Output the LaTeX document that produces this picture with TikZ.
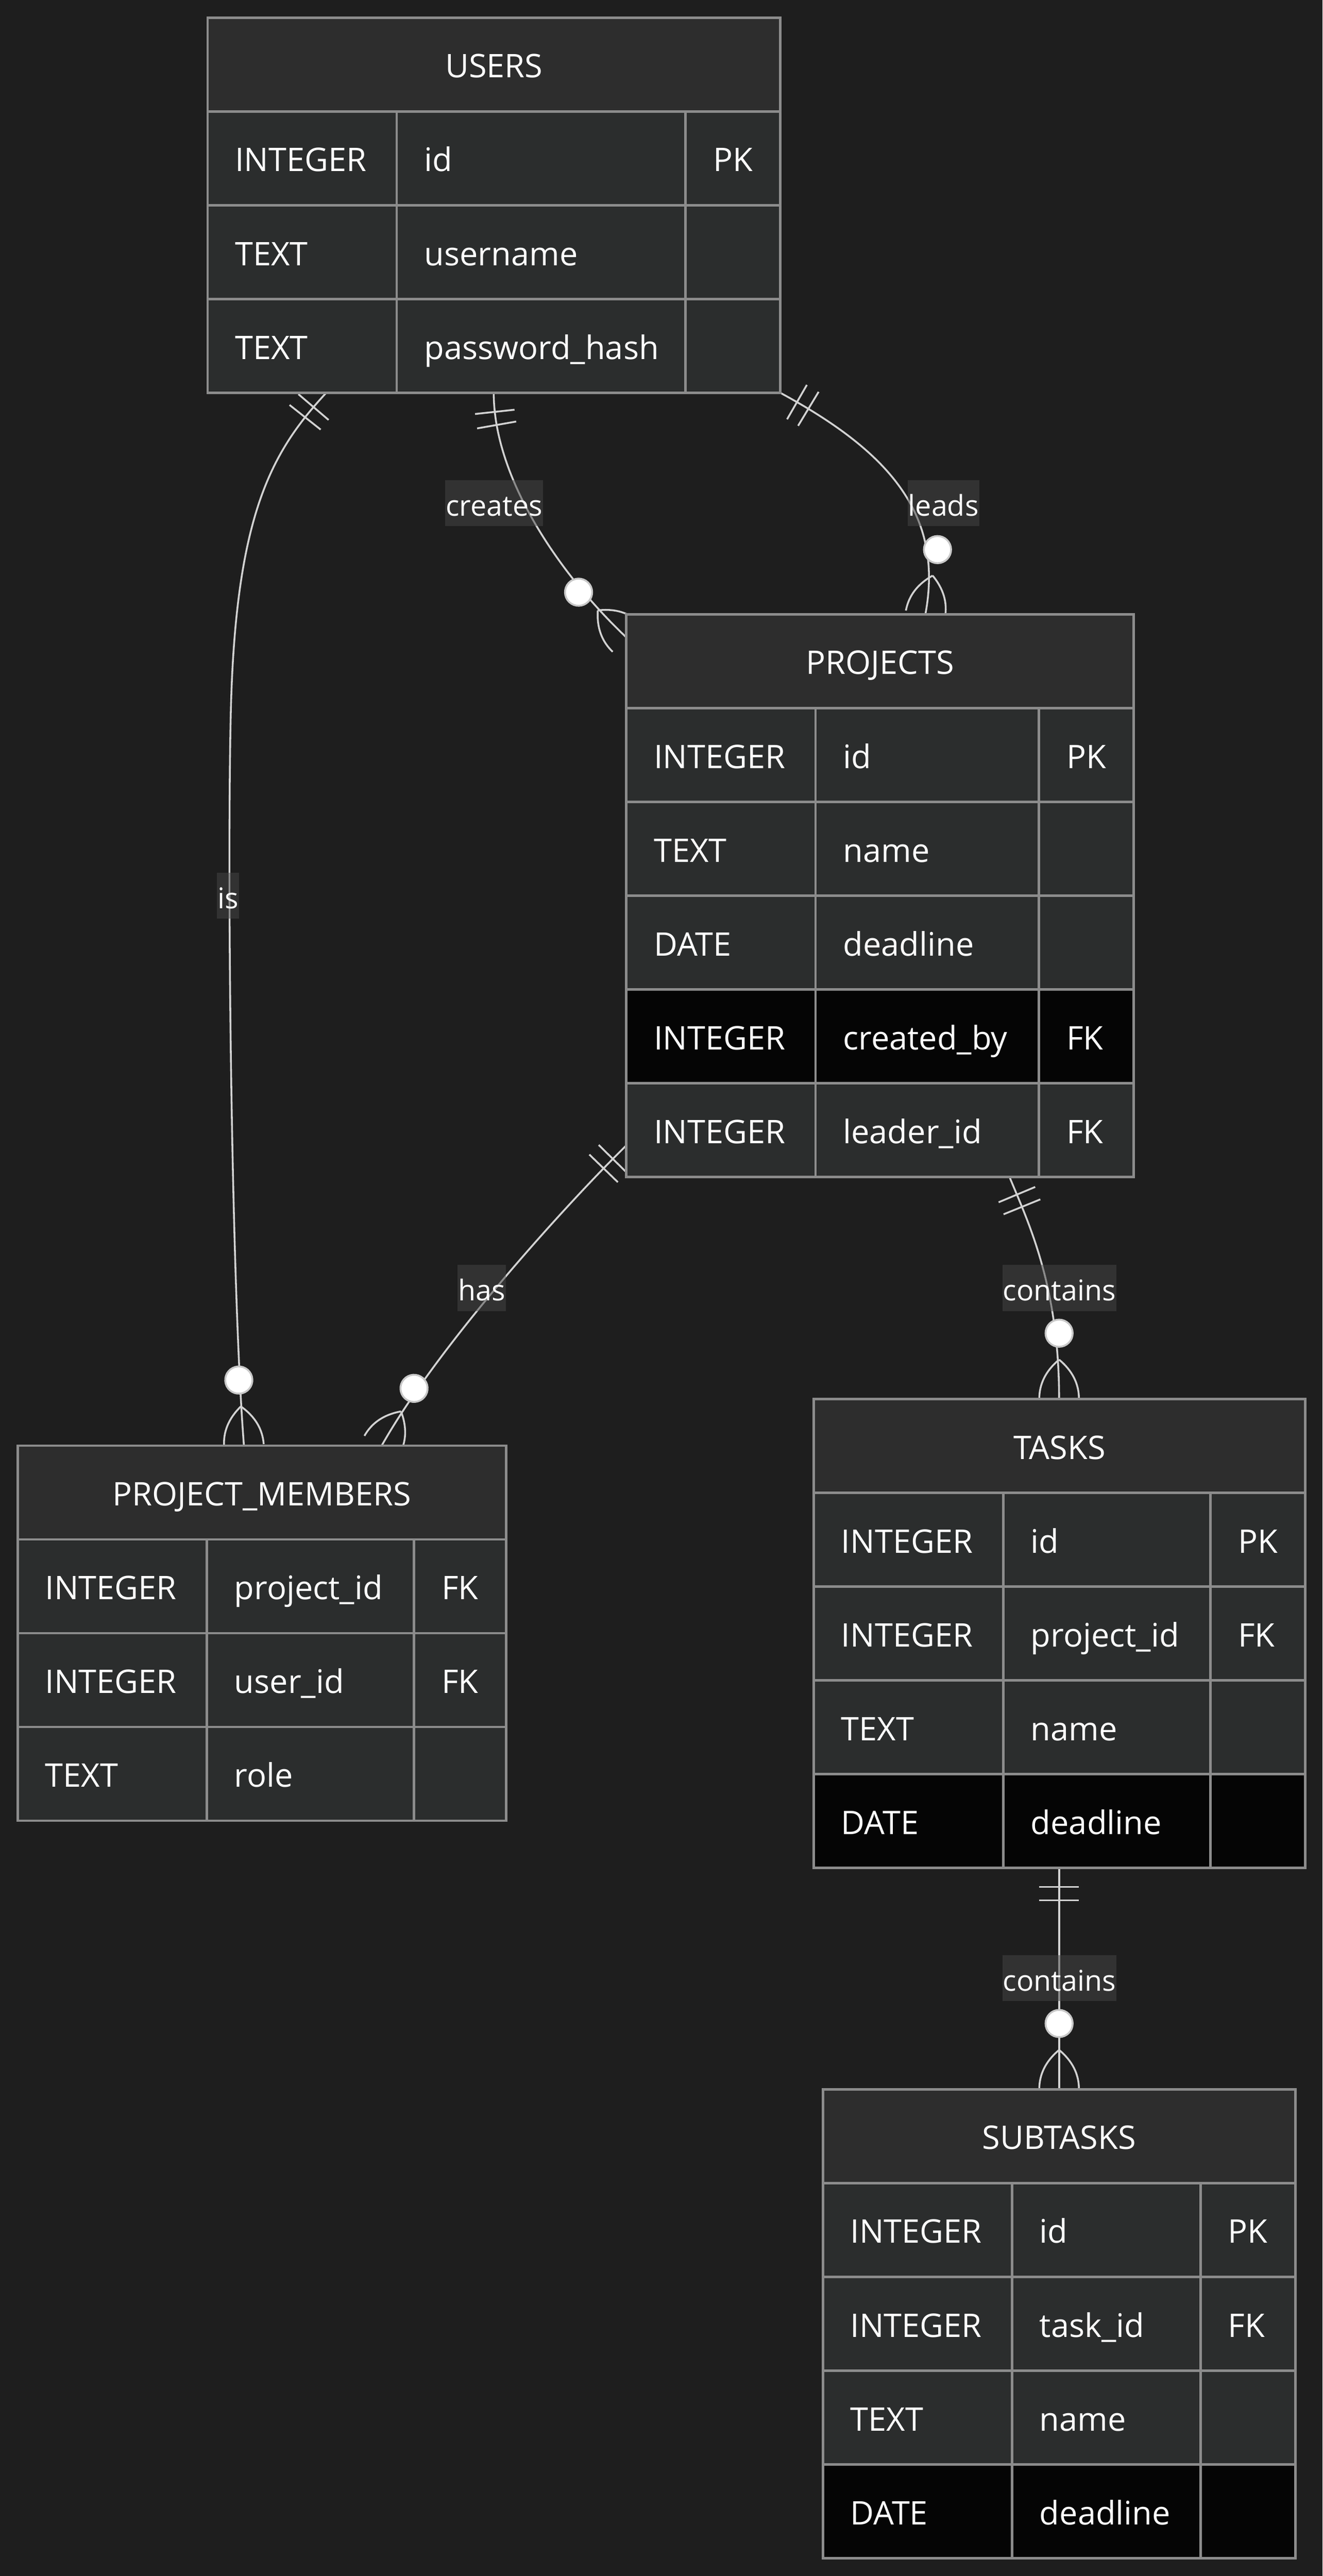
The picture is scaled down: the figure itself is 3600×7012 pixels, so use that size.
\documentclass[tikz,border=0pt]{standalone}
\usepackage{fontspec}
\setmainfont{Open Sans}
\usetikzlibrary{calc,decorations.markings}
\pgfdeclarelayer{bgl}
\pgfdeclarelayer{edges}
\pgfsetlayers{bgl,edges,main}
\definecolor{bgc}{RGB}{30,30,30}
\definecolor{hdrc}{RGB}{45,45,45}
\definecolor{rowc}{RGB}{43,45,45}
\definecolor{darkc}{RGB}{5,5,5}
\definecolor{bordc}{RGB}{140,140,140}
\definecolor{edgec}{RGB}{210,210,210}
\definecolor{circc}{RGB}{200,200,200}
\definecolor{lblc}{RGB}{70,70,70}
\def\u{0.2pt}
\def\rh{255.3}
\def\pad{74}
\def\bl{36}
\newcounter{cellno}
\tikzset{
  cell/.style={draw=bordc, line width=1.3pt},
  tblframe/.style={draw=none, inner sep=0pt, outer sep=0pt},
  celltxt/.style={anchor=base west, inner sep=0pt, text=white, font=\fontsize{17.7pt}{21pt}\selectfont},
  titletxt/.style={anchor=base, inner sep=0pt, text=white, font=\fontsize{17.7pt}{21pt}\selectfont},
  lbl/.style={fill=lblc, fill opacity=0.5, text opacity=1, text=white, inner xsep=0.3pt, inner ysep=0pt,
    minimum height=25pt, text height=14pt, text depth=0pt, font=\fontsize{15.6pt}{18pt}\selectfont},
  erline/.style={draw=edgec, line width=1pt},
  onestart/.style={postaction={decorate, decoration={markings,
    mark=at position 10.4pt with {\draw[edgec, line width=1pt] (0pt,-10.8pt) -- (0pt,10.8pt);},
    mark=at position 17.6pt with {\draw[edgec, line width=1pt] (0pt,-10.8pt) -- (0pt,10.8pt);}}}},
  manyend/.style={postaction={decorate, decoration={markings,
    mark=at position 1 with {
      \draw[edgec, line width=1pt] (-21.4pt,0pt) .. controls (-15.4pt,7.2pt) and (-8.3pt,10.8pt) .. (0pt,10.8pt);
      \draw[edgec, line width=1pt] (-21.4pt,0pt) .. controls (-15.4pt,-7.2pt) and (-8.3pt,-10.8pt) .. (0pt,-10.8pt);
      \draw[circc, fill=white, line width=1pt] (-35.8pt,0pt) circle (7.4pt);
    }}}},
}
% table header: name, x, y, w1, w2, w3, nrows, title
\newcommand\ertable[8]{%
  \def\tx{#2}\def\ty{#3}\def\wa{#4}\def\wb{#5}\def\wc{#6}%
  \pgfmathsetmacro\tw{#4+#5+#6}%
  \pgfmathsetmacro\th{(#7+1)*\rh}%
  \node[tblframe, minimum width=\tw*\u, minimum height=\th*\u, anchor=north west] (#1) at (#2,#3) {};
  \draw[cell, fill=hdrc] (#2,#3) rectangle ++(\tw,\rh);
  \node[titletxt] (#1-title) at (#2+\tw/2, #3+\rh/2+\bl) {#8};
}
% row: index, fill, type, name, key
\newcommand\errow[5]{%
  \pgfmathsetmacro\ry{\ty+#1*\rh}%
  \draw[cell, fill=#2] (\tx,\ry) rectangle ++(\wa,\rh);
  \draw[cell, fill=#2] (\tx+\wa,\ry) rectangle ++(\wb,\rh);
  \draw[cell, fill=#2] (\tx+\wa+\wb,\ry) rectangle ++(\wc,\rh);
  \stepcounter{cellno}\node[celltxt] (c\arabic{cellno}) at (\tx+\pad, \ry+\rh/2+\bl) {#3};
  \stepcounter{cellno}\node[celltxt] (c\arabic{cellno}) at (\tx+\wa+\pad, \ry+\rh/2+\bl) {#4};
  \if\relax\detokenize{#5}\relax\else
    \stepcounter{cellno}\node[celltxt] (c\arabic{cellno}) at (\tx+\wa+\wb+\pad, \ry+\rh/2+\bl) {#5};
  \fi
}
\begin{document}
\begin{tikzpicture}[x=0.2pt, y=-0.2pt]
\useasboundingbox (0,0) rectangle (3600,7012);
\begin{pgfonlayer}{bgl}
  \fill[bgc] (0,0) rectangle (3600,7012);
\end{pgfonlayer}

% USERS
\ertable{users}{565}{48}{515}{786}{258}{3}{USERS}
\errow{1}{rowc}{INTEGER}{id}{PK}
\errow{2}{rowc}{TEXT}{username}{}
\errow{3}{rowc}{TEXT}{password\_hash}{}

% PROJECTS
\ertable{projects}{1705}{1672}{515}{608}{258}{5}{PROJECTS}
\errow{1}{rowc}{INTEGER}{id}{PK}
\errow{2}{rowc}{TEXT}{name}{}
\errow{3}{rowc}{DATE}{deadline}{}
\errow{4}{darkc}{INTEGER}{created\_by}{FK}
\errow{5}{rowc}{INTEGER}{leader\_id}{FK}

% PROJECT_MEMBERS
\ertable{pm}{48}{3935}{515}{564}{251}{3}{PROJECT\_MEMBERS}
\errow{1}{rowc}{INTEGER}{project\_id}{FK}
\errow{2}{rowc}{INTEGER}{user\_id}{FK}
\errow{3}{rowc}{TEXT}{role}{}

% TASKS
\ertable{tasks}{2215}{3808}{516}{564}{258}{4}{TASKS}
\errow{1}{rowc}{INTEGER}{id}{PK}
\errow{2}{rowc}{INTEGER}{project\_id}{FK}
\errow{3}{rowc}{TEXT}{name}{}
\errow{4}{darkc}{DATE}{deadline}{}

% SUBTASKS
\ertable{subtasks}{2240}{5687}{515}{513}{258}{4}{SUBTASKS}
\errow{1}{rowc}{INTEGER}{id}{PK}
\errow{2}{rowc}{INTEGER}{task\_id}{FK}
\errow{3}{rowc}{TEXT}{name}{}
\errow{4}{darkc}{DATE}{deadline}{}

\coordinate (isbend) at (628,1950);

\begin{pgfonlayer}{edges}
  % USERS -- PROJECT_MEMBERS : is
  \draw[erline, onestart, manyend] ($(users.south west)+(323,0)$)
     .. controls +(-148,160) and +(12,-550) .. (isbend)
     .. controls +(-10,450) and +(-34,-435) .. ($(pm.north west)+(616,0)$);
  % USERS -- PROJECTS : creates
  \draw[erline, onestart, manyend] ($(users.south west)+(779,0)$)
     .. controls +(0,230) and +(-185,-175) .. ($(projects.north west)+(0,63)$);
  % USERS -- PROJECTS : leads
  \draw[erline, onestart, manyend] (users.south east)
     .. controls +(296,160) and +(51,-272) .. ($(projects.north west)+(814,0)$);
  % PROJECTS -- PROJECT_MEMBERS : has
  \draw[erline, onestart, manyend] ($(projects.south west)+(0,-86)$)
     .. controls +(-145,142) and +(161,-285) .. ($(pm.north west)+(991,0)$);
  % PROJECTS -- TASKS : contains
  \draw[erline, onestart, manyend] ($(projects.south west)+(1043,0)$)
     .. controls +(52,126) and +(0,-308) .. ($(tasks.north west)+(668,0)$);
  % TASKS -- SUBTASKS : contains
  \draw[erline, onestart, manyend] ($(tasks.south west)+(668,0)$) -- ($(subtasks.north west)+(643,0)$);
\end{pgfonlayer}

\node[lbl] (l-creates) at (1345,1370) {creates};
\node[lbl] (l-leads) at (2568,1370) {leads};
\node[lbl] (l-is) at (621,2438) {is};
\node[lbl] (l-has) at (1311,3506) {has};
\node[lbl] (l-contains1) at (2884,3506) {contains};
\node[lbl] (l-contains2) at (2884,5385) {contains};
\end{tikzpicture}
\end{document}
